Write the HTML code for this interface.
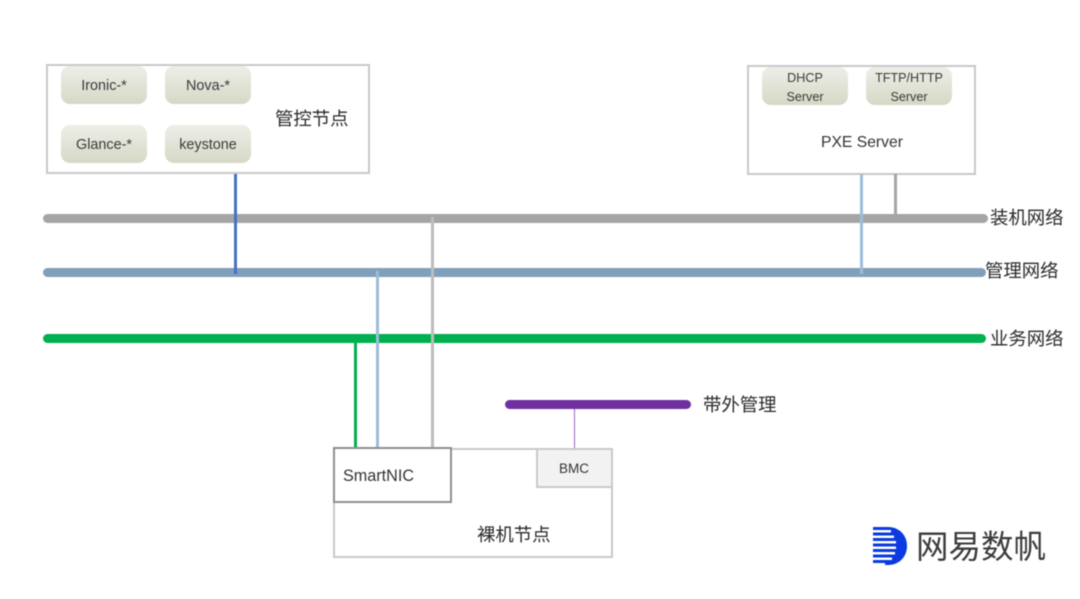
<!DOCTYPE html>
<html><head><meta charset="utf-8">
<style>
html,body{margin:0;padding:0;background:#fff}
#p{position:relative;width:1080px;height:599px;overflow:hidden;background:#fff;font-family:"Liberation Sans","Noto Sans CJK SC",sans-serif;color:#333;filter:blur(.45px)}
#p div{position:absolute;box-sizing:border-box}
.box{background:#fff;border:2px solid #c9c9c9}
.pill{width:86px;height:38px;border-radius:9px;background:linear-gradient(#eeeee8,#d6d8c6);text-align:center;font-size:14.4px;color:#3a3a3a}
.one{line-height:40px}
.two{line-height:19px;font-size:12.6px;padding-top:2px}
.bar{height:9px;border-radius:5px}
.v{width:3px}
.t{white-space:nowrap;line-height:1}
.cn{font-size:18.4px;color:#2b2b2b}
</style></head><body>
<div id="p">
<div class="box" style="left:46px;top:64px;width:324px;height:110px"></div>
<div class="pill one" style="left:61px;top:66px">Ironic-*</div>
<div class="pill one" style="left:165px;top:66px">Nova-*</div>
<div class="pill one" style="left:61px;top:125px">Glance-*</div>
<div class="pill one" style="left:165px;top:125px">keystone</div>
<div class="t cn" style="left:275px;top:110px">管控节点</div>

<div class="box" style="left:747px;top:65px;width:229px;height:110px"></div>
<div class="pill two" style="left:762px;top:67px">DHCP<br>Server</div>
<div class="pill two" style="left:866px;top:67px">TFTP/HTTP<br>Server</div>
<div class="t" style="left:821px;top:135px;font-size:15.7px">PXE Server</div>

<div class="bar" style="left:43px;top:213.5px;width:945px;background:#a5a5a5"></div>
<div class="bar" style="left:43px;top:267.5px;width:943px;background:#7f9fba"></div>
<div class="bar" style="left:43px;top:333.5px;width:943px;background:#00b050"></div>
<div class="bar" style="left:505px;top:400px;width:186px;background:#7030a0"></div>

<div class="v" style="left:233.5px;top:174px;height:100px;background:#4472c4"></div>
<div class="v" style="left:859.5px;top:174px;height:100px;background:#9dbcd9"></div>
<div class="v" style="left:893.5px;top:174px;height:43px;background:#a5a5a5"></div>
<div class="v" style="left:431px;top:217px;height:232px;background:#bdbdbd"></div>
<div class="v" style="left:376px;top:271px;height:178px;background:#9dbcd9"></div>
<div class="v" style="left:354px;top:342px;height:107px;background:#00b050"></div>
<div style="left:574px;top:409px;width:1px;height:39px;background:#9a66c4"></div>

<div class="t cn" style="left:990px;top:209px">装机网络</div>
<div class="t cn" style="left:985px;top:262px">管理网络</div>
<div class="t cn" style="left:990px;top:330px">业务网络</div>
<div class="t cn" style="left:703px;top:396px">带外管理</div>

<div class="box" style="left:333px;top:448px;width:280px;height:110px"></div>
<div class="box" style="left:333px;top:447px;width:119px;height:56px;border-color:#8f8f8f"></div>
<div class="t" style="left:343px;top:468px;font-size:16.2px">SmartNIC</div>
<div class="box" style="left:536px;top:448px;width:77px;height:40px;background:#f2f2f2"></div>
<div class="t" style="left:559px;top:462px;font-size:13.5px">BMC</div>
<div class="t cn" style="left:477px;top:526px">裸机节点</div>

<svg style="position:absolute;left:872px;top:526px" width="40" height="40" viewBox="0 0 40 40">
<path d="M13 1h3c11 0 19 8 19 19s-8 19-19 19h-3z" fill="#0a3ae0"/>
<g fill="#0a3ae0"><rect x="1" y="1" width="12" height="3"/><rect x="1" y="6.5" width="12" height="3"/><rect x="1" y="12" width="12" height="3"/><rect x="1" y="17.5" width="12" height="3"/><rect x="1" y="23" width="12" height="3"/><rect x="1" y="28.5" width="12" height="3"/><rect x="1" y="34" width="12" height="3"/></g>
<g fill="#fff"><rect x="13" y="4" width="6" height="2.5"/><rect x="13" y="9.5" width="9" height="2.5"/><rect x="13" y="15" width="11" height="2.5"/><rect x="13" y="20.5" width="11" height="2.5"/><rect x="13" y="26" width="10" height="2.5"/><rect x="13" y="31.5" width="7" height="2.5"/></g>
</svg>
<div class="t" style="left:916px;top:531px;font-size:32.5px;color:#3c3c3c">网易数帆</div>
</div>
</body></html>
